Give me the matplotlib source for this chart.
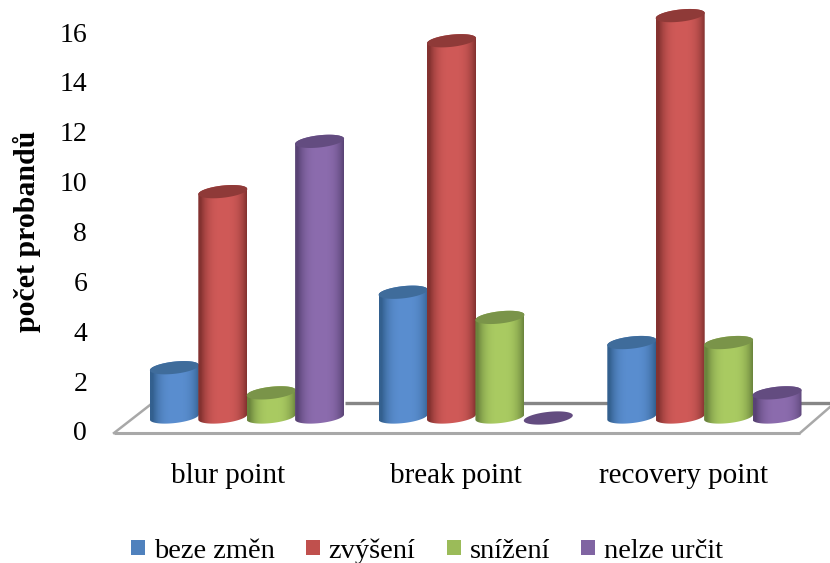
import numpy as np
import matplotlib
matplotlib.use("Agg")
import matplotlib.pyplot as plt
from matplotlib.patches import Patch, Polygon

plt.rcParams["font.family"] = ["Liberation Serif", "DejaVu Serif"]

categories = ["blur point", "break point", "recovery point"]
series_names = ["beze změn", "zvýšení", "snížení", "nelze určit"]
beze_zmen = [2, 5, 3]
zvyseni = [9, 15, 16]
snizeni = [1, 4, 3]
nelze_urcit = [11, 0, 1]

all_series = [beze_zmen, zvyseni, snizeni, nelze_urcit]
# light middle, dark edge, cap colour, legend swatch
colors = [
    ("#5a8ed0", "#33608f", "#3f6c9b", "#4f81bd"),
    ("#d05a58", "#843230", "#8f3a38", "#c0504d"),
    ("#aacb62", "#6b853d", "#7a9449", "#9bbb59"),
    ("#8c6cae", "#594375", "#634c80", "#8064a2"),
]

W, H = 830, 563
PX_PER_UNIT = 25.15
BASE_PX = 418.0
FOOT_PX = 417.0
GROUP_X = 247.0
GROUP_STEP = 228.7
BAR_STEP = 48.4
RX = 24.5
RY = 6.1
TILT = 2.6


def py(px):
    # screen row -> value units of the main axes
    return (BASE_PX - px) / PX_PER_UNIT


def ring(xc, value, t):
    # slanted ellipse seen from above
    x = xc + RX * np.cos(t)
    y = value + (TILT * np.cos(t) + RY * np.sin(t)) / PX_PER_UNIT
    return x, y


def body_gradient(light, dark):
    c0 = np.array(matplotlib.colors.to_rgb(dark))
    c1 = np.array(matplotlib.colors.to_rgb(light))
    pos = np.linspace(-1, 1, 64)
    w = np.clip(1 - (np.abs(pos - 0.05) / 0.95) ** 3.0, 0, 1)[:, None]
    return (c0 + (c1 - c0) * w)[None, :, :]


def draw_cylinder(ax, xc, value, light, dark, cap, z):
    t = np.linspace(0, 2 * np.pi, 120)
    cap_x, cap_y = ring(xc, value, t)
    if value > 0:
        low = np.linspace(np.pi, 2 * np.pi, 60)
        bx, by = ring(xc, py(FOOT_PX), low)
        hi = np.linspace(0, np.pi, 60)
        tx, ty = ring(xc, value, hi)
        outline = Polygon(np.column_stack([np.r_[bx, tx], np.r_[by, ty]]),
                          closed=True, transform=ax.transData, fc="none", ec="none")
        ax.add_patch(outline)
        img = ax.imshow(body_gradient(light, dark), aspect="auto", zorder=z,
                        extent=(xc - RX, xc + RX, -1, value + 1), interpolation="bilinear")
        img.set_clip_path(outline)
    ax.fill(cap_x, cap_y, color=cap, lw=0, zorder=z + 0.1)


fig = plt.figure(figsize=(W / 100, H / 100), dpi=100)
ax = fig.add_axes([0, 0, 1, 1])
ax.set_axis_off()

# floor of the 3D box
floor = Polygon([(114, py(432)), (150, py(403)), (830, py(403)), (800, py(432))],
                closed=True, fc="white", ec="none", zorder=1)
ax.add_patch(floor)
ax.plot([345, 830], [py(402.5), py(402.5)], color="#868686", lw=2.4, zorder=2, solid_capstyle="butt")
ax.plot([114, 800], [py(433), py(433)], color="#a8a8a8", lw=2.2, zorder=2, solid_capstyle="butt")
ax.plot([114, 150], [py(433), py(405)], color="#a8a8a8", lw=1.8, zorder=2)
ax.plot([800, 830], [py(433), py(407)], color="#a8a8a8", lw=1.8, zorder=2)

for i in range(len(categories)):
    for j, values in enumerate(all_series):
        xc = GROUP_X + GROUP_STEP * i + (j - 1.5) * BAR_STEP
        light, dark, cap, _ = colors[j]
        draw_cylinder(ax, xc, values[i], light, dark, cap, 3 + i + j * 0.2)

ax.set_xlim(0, W)
ax.set_ylim(py(H), py(0))

# scale axes carrying the value and category labels
left = 90
ax2 = fig.add_axes([left / W, (H - 431) / H, (W - left) / W, 399 / H])
ax2.patch.set_visible(False)
for s in ax2.spines.values():
    s.set_visible(False)
ax2.set_ylim(0, 16)
ax2.set_yticks(range(0, 17, 2))
ax2.set_xlim((left - 228) / 227.5, (W - 228) / 227.5)
ax2.set_xticks(range(len(categories)))
ax2.set_xticklabels(categories, fontsize=21)
ax2.tick_params(axis="y", length=0, pad=2, labelsize=20)
ax2.tick_params(axis="x", length=0, pad=23)
ax2.set_ylabel("počet probandů", fontsize=21.5, fontweight="bold", labelpad=13)

handles = [Patch(fc=c[3], ec="none", label=n) for c, n in zip(colors, series_names)]
fig.legend(handles=handles, ncols=4, frameon=False, fontsize=20.5,
           loc="center", bbox_to_anchor=(427 / W, (H - 551) / H),
           handlelength=0.49, handleheight=0.42, handletextpad=0.32, columnspacing=1.09,
           borderpad=0, borderaxespad=0)

fig.savefig("out.png", dpi=100)
